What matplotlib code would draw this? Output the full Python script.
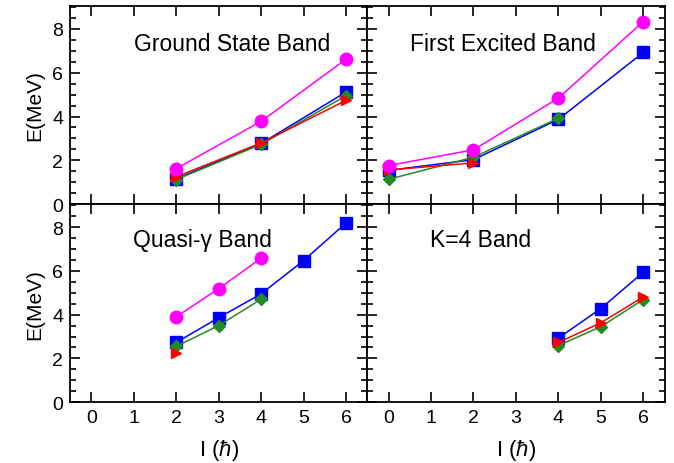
import numpy as np
import matplotlib.pyplot as plt
from matplotlib.ticker import MultipleLocator

plt.rcParams['font.family'] = ['Liberation Sans', 'DejaVu Sans']
plt.rcParams['mathtext.fontset'] = 'custom'
plt.rcParams['mathtext.it'] = 'Liberation Sans:italic'
plt.rcParams['mathtext.rm'] = 'Liberation Sans'

# Ground State Band
gsb_spin = [2, 4, 6]
gsb_magenta = [1.62, 3.78, 6.62]
gsb_blue = [1.16, 2.77, 5.12]
gsb_green = [1.12, 2.73, 4.95]
gsb_red = [1.25, 2.79, 4.74]

# First Excited Band
feb_spin = [0, 2, 4, 6]
feb_magenta = [1.76, 2.48, 4.84, 8.34]
feb_blue = [1.54, 2.03, 3.87, 6.93]
feb_green = [1.13, 2.14, 3.92]
feb_red = [1.56, 1.88]

# Quasi-gamma Band
qg_spin_m = [2, 3, 4]
qg_magenta = [3.9, 5.19, 6.58]
qg_spin_b = [2, 3, 4, 5, 6]
qg_blue = [2.73, 3.86, 4.95, 6.47, 8.19]
qg_green = [2.55, 3.5, 4.71]
qg_red = [2.25]

# K=4 Band
k4_spin = [4, 5, 6]
k4_blue = [2.93, 4.28, 5.94]
k4_red = [2.73, 3.63, 4.81]
k4_green = [2.59, 3.45, 4.69]

MAG = '#ff00ff'
BLU = '#0000ff'
GRN = '#238b23'
RED = '#ff0000'


def blue(ax, x, y):
    ax.plot(x, y, color=BLU, marker='s', ms=8, lw=1.1, zorder=3)

def green(ax, x, y):
    ax.plot(x, y, color=GRN, marker='D', ms=6, lw=1.1, zorder=4)

def red(ax, x, y):
    ax.plot(x, y, color=RED, marker='>', ms=7.5, lw=1.1, zorder=5)

def magenta(ax, x, y):
    ax.plot(x, y, color=MAG, marker='o', ms=9, lw=1.1, zorder=6)


fig, axs = plt.subplots(2, 2, figsize=(6.74, 4.64), dpi=100, sharex=True, sharey=True)
fig.subplots_adjust(left=0.104, right=0.986, top=0.985, bottom=0.131, wspace=0, hspace=0)

ax = axs[0, 0]
blue(ax, gsb_spin, gsb_blue)
green(ax, gsb_spin, gsb_green)
red(ax, gsb_spin, gsb_red)
magenta(ax, gsb_spin, gsb_magenta)
ax.text(0.216, 0.81, 'Ground State Band', transform=ax.transAxes, fontsize=16.5, va='center')

ax = axs[0, 1]
blue(ax, feb_spin, feb_blue)
green(ax, feb_spin[:3], feb_green)
red(ax, feb_spin[:2], feb_red)
magenta(ax, feb_spin, feb_magenta)
ax.text(0.142, 0.81, 'First Excited Band', transform=ax.transAxes, fontsize=16.5, va='center')

ax = axs[1, 0]
blue(ax, qg_spin_b, qg_blue)
green(ax, qg_spin_m, qg_green)
red(ax, qg_spin_m[:1], qg_red)
magenta(ax, qg_spin_m, qg_magenta)
ax.text(0.213, 0.82, 'Quasi-γ Band', transform=ax.transAxes, fontsize=16.5, va='center')

ax = axs[1, 1]
blue(ax, k4_spin, k4_blue)
green(ax, k4_spin, k4_green)
red(ax, k4_spin, k4_red)
ax.text(0.21, 0.82, 'K=4 Band', transform=ax.transAxes, fontsize=16.5, va='center')

for ax in axs.flat:
    ax.set_xlim(-0.5, 6.5)
    ax.set_ylim(0, 9.05)
    ax.xaxis.set_major_locator(MultipleLocator(1))
    ax.yaxis.set_major_locator(MultipleLocator(2))
    ax.yaxis.set_minor_locator(MultipleLocator(0.5))
    ax.tick_params(which='both', direction='in', top=True, right=True, labelsize=14, width=1.2)
    ax.tick_params(which='major', length=7, pad=5)
    ax.tick_params(which='minor', length=4)
    for s in ax.spines.values():
        s.set_linewidth(1.3)

for ax in axs[:, 0]:
    ax.set_ylabel('E(MeV)', fontsize=15, labelpad=6)
for ax in axs[1, :]:
    ax.set_xlabel(r'I ($\hbar$)', fontsize=16, labelpad=8)

fig.savefig('out.png', dpi=100)
